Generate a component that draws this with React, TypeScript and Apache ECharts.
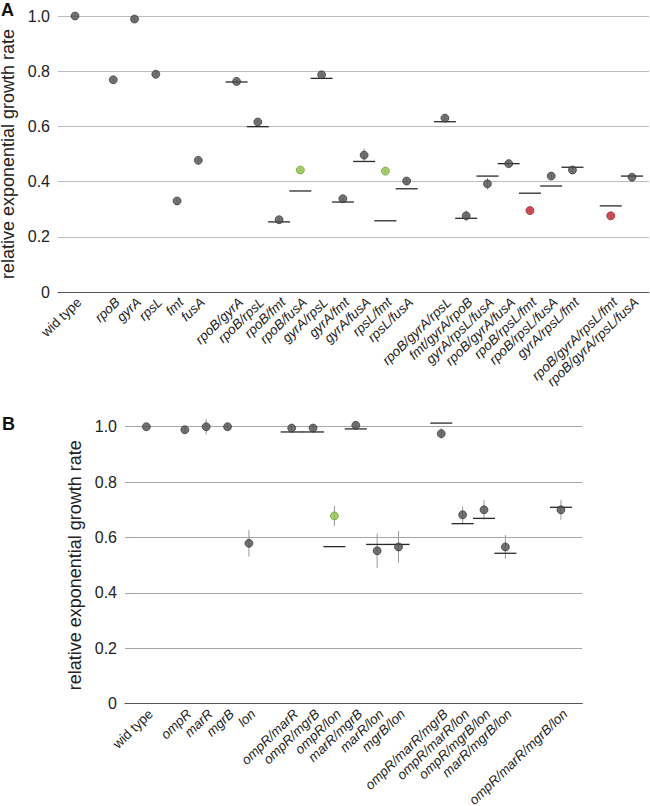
import React, { useEffect, useRef } from "react";
import * as echarts from "echarts";

// ---------- Panel A data ----------
const categoriesA = [
  "wid type", "rpoB", "gyrA", "rpsL", "fmt", "fusA",
  "rpoB/gyrA", "rpoB/rpsL", "rpoB/fmt", "rpoB/fusA", "gyrA/rpsL", "gyrA/fmt", "gyrA/fusA", "rpsL/fmt", "rpsL/fusA",
  "rpoB/gyrA/rpsL", "fmt/gyrA/rpoB", "gyrA/rpsL/fusA", "rpoB/gyrA/fusA", "rpoB/rpsL/fmt", "rpoB/rpsL/fusA", "gyrA/rpsL/fmt",
  "rpoB/gyrA/rpsL/fmt", "rpoB/gyrA/rpsL/fusA",
];
const groupSizesA = [1, 5, 9, 7, 2];
const observedA = [
  1.0, 0.769, 0.989, 0.789, 0.33, 0.477,
  0.763, 0.616, 0.262, 0.442, 0.787, 0.338, 0.496, 0.438, 0.402,
  0.63, 0.276, 0.392, 0.465, 0.295, 0.42, 0.442,
  0.276, 0.416,
];
const expectedA = [
  null, null, null, null, null, null,
  0.761, 0.599, 0.254, 0.366, 0.774, 0.326, 0.473, 0.258, 0.374,
  0.617, 0.267, 0.42, 0.465, 0.358, 0.384, 0.452,
  0.312, 0.42,
];
const errorA = [
  0.004, 0.006, 0.006, 0.006, 0.006, 0.006,
  0.006, 0.008, 0.008, 0.006, 0.006, 0.008, 0.024, 0.006, 0.008,
  0.008, 0.02, 0.021, 0.008, 0.006, 0.008, 0.008,
  0.006, 0.008,
];
const epistasisA = [
  "ns", "ns", "ns", "ns", "ns", "ns",
  "ns", "ns", "ns", "pos", "ns", "ns", "ns", "pos", "ns",
  "ns", "ns", "ns", "ns", "neg", "ns", "ns",
  "neg", "ns",
];

// ---------- Panel B data ----------
const categoriesB = [
  "wid type", "ompR", "marR", "mgrB", "lon",
  "ompR/marR", "ompR/mgrB", "ompR/lon", "marR/mgrB", "marR/lon", "mgrB/lon",
  "ompR/marR/mgrB", "ompR/marR/lon", "ompR/mgrB/lon", "marR/mgrB/lon",
  "ompR/marR/mgrB/lon",
];
const groupSizesB = [1, 4, 6, 4, 1];
const observedB = [
  1.0, 0.989, 1.0, 1.0, 0.579,
  0.995, 0.995, 0.678, 1.005, 0.552, 0.566,
  0.975, 0.682, 0.7, 0.566,
  0.7,
];
const expectedB = [
  null, null, null, null, null,
  0.981, 0.981, 0.567, 0.992, 0.575, 0.575,
  1.013, 0.65, 0.669, 0.543,
  0.709,
];
const errorB = [
  0.005, 0.012, 0.028, 0.012, 0.048,
  0.008, 0.008, 0.037, 0.012, 0.062, 0.057,
  0.019, 0.03, 0.035, 0.043,
  0.036,
];
const epistasisB = [
  "ns", "ns", "ns", "ns", "ns",
  "ns", "ns", "pos", "ns", "ns", "ns",
  "ns", "ns", "ns", "ns",
  "ns",
];

const yTicks = [0, 0.2, 0.4, 0.6, 0.8, 1.0];

// ---------- layout helpers ----------
const GAPS_A = [1.8, 1.8, 1.8, 1.8];
const GAPS_B = [1.8, 2.0, 2.0, 2.6];
const LABEL_SHIFT = 0.2;
const FONT = "'Liberation Sans', Arial, Helvetica, sans-serif";

function slotPositions(groupSizes: number[], gaps: number[]): number[] {
  const out: number[] = [];
  let x = 0;
  groupSizes.forEach((n, g) => {
    if (g > 0) x += gaps[g - 1] - 1;
    for (let i = 0; i < n; i++) {
      out.push(Math.round(x * 10) / 10);
      x += 1;
    }
  });
  return out;
}

const COLORS: Record<string, { fill: string; border: string }> = {
  ns: { fill: "#4f4f4f", border: "#2a2a2a" },
  pos: { fill: "#8cc63f", border: "#5b8a26" },
  neg: { fill: "#c8202f", border: "#7d1119" },
};

function panel(
  idx: number,
  categories: string[],
  groupSizes: number[],
  gaps: number[],
  observed: number[],
  expected: (number | null)[],
  error: number[],
  epistasis: string[],
  xMin: number,
  xMax: number,
  gridColor: string,
  nameGap: number
) {
  const pos = slotPositions(groupSizes, gaps);
  const xAxis = {
    type: "value",
    gridIndex: idx,
    min: xMin,
    max: xMax,
    interval: 0.2,
    axisLine: { show: true, lineStyle: { color: "#555", width: 1 } },
    axisTick: { show: false },
    splitLine: { show: false },
    axisLabel: {
      show: true,
      rotate: 44,
      margin: 8,
      hideOverlap: false,
      color: "#222",
      fontSize: 13.5,
      fontFamily: FONT,
      formatter: (v: number) => {
        const t = v - LABEL_SHIFT;
        const k = pos.findIndex((p) => Math.abs(p - t) < 0.05);
        if (k < 0) return "";
        return k === 0 ? `{n|${categories[k]}}` : `{i|${categories[k]}}`;
      },
      rich: {
        n: { fontStyle: "normal", fontSize: 13.5, fontFamily: FONT, color: "#222" },
        i: { fontStyle: "italic", fontSize: 13.5, fontFamily: FONT, color: "#222" },
      },
    },
  };
  const yAxis = {
    type: "value",
    gridIndex: idx,
    min: 0,
    max: 1,
    interval: 0.2,
    name: "relative exponential growth rate",
    nameLocation: "middle",
    nameGap,
    nameTextStyle: { fontSize: 18, color: "#222", fontFamily: FONT },
    axisLine: { show: false },
    axisTick: { show: false },
    splitLine: { show: true, lineStyle: { color: gridColor, width: 1.2 } },
    axisLabel: {
      margin: 8,
      fontSize: 16,
      color: "#222",
      fontFamily: FONT,
      formatter: (v: number) => {
        const t = yTicks.find((y) => Math.abs(y - v) < 1e-6);
        if (t === undefined) return "";
        return t === 0 ? "0" : t.toFixed(1);
      },
    },
  };

  const errData = observed.map((o, i) => [pos[i], o, error[i]]);
  const expData = expected
    .map((e, i) => (e === null ? null : [pos[i], e]))
    .filter((d) => d !== null);
  const obsData = observed.map((o, i) => ({
    value: [pos[i], o],
    itemStyle: {
      color: COLORS[epistasis[i]].fill,
      borderColor: COLORS[epistasis[i]].border,
      borderWidth: 0.8,
    },
  }));

  const series = [
    {
      type: "custom",
      xAxisIndex: idx,
      yAxisIndex: idx,
      data: errData,
      z: 2,
      renderItem: (params: any, api: any) => {
        const x = api.value(0);
        const y = api.value(1);
        const e = api.value(2);
        const p1 = api.coord([x, y - e]);
        const p2 = api.coord([x, y + e]);
        return {
          type: "line",
          shape: { x1: p1[0], y1: p1[1], x2: p2[0], y2: p2[1] },
          style: { stroke: "#9a9a9a", lineWidth: 1 },
        };
      },
    },
    {
      type: "custom",
      xAxisIndex: idx,
      yAxisIndex: idx,
      data: expData,
      z: 3,
      renderItem: (params: any, api: any) => {
        const p = api.coord([api.value(0), api.value(1)]);
        return {
          type: "line",
          shape: { x1: p[0] - 11, y1: p[1], x2: p[0] + 11, y2: p[1] },
          style: { stroke: "#2a2a2a", lineWidth: 1.3 },
        };
      },
    },
    {
      type: "scatter",
      xAxisIndex: idx,
      yAxisIndex: idx,
      symbol: "circle",
      symbolSize: 8,
      clip: false,
      z: 4,
      data: obsData,
    },
  ];
  return { xAxis, yAxis, series };
}

export default function App() {
  const ref = useRef<HTMLDivElement>(null);
  useEffect(() => {
    if (!ref.current) return;
    const chart = echarts.init(ref.current, null, { renderer: "svg" });
    const a = panel(0, categoriesA, groupSizesA, GAPS_A, observedA, expectedA, errorA, epistasisA, -0.8, 27.0, "#bdbdbd", 36.5);
    const b = panel(1, categoriesB, groupSizesB, GAPS_B, observedB, expectedB, errorB, epistasisB, -1.0, 20.4, "#a6a6a6", 41.5);
    chart.setOption({
      animation: false,
      backgroundColor: "#ffffff",
      textStyle: { fontFamily: FONT },
      grid: [
        { left: 58, top: 16, width: 591, height: 276, outerBoundsMode: "none", containLabel: false },
        { left: 125, top: 426.7, width: 457.3, height: 277, outerBoundsMode: "none", containLabel: false },
      ],
      xAxis: [a.xAxis, b.xAxis],
      yAxis: [a.yAxis, b.yAxis],
      series: [...a.series, ...b.series],
      graphic: [
        { type: "text", left: 1, top: 1, style: { text: "A", font: `bold 18px ${FONT}`, fill: "#111" } },
        { type: "text", left: 2, top: 415, style: { text: "B", font: `bold 18px ${FONT}`, fill: "#111" } },
      ],
    });
    return () => chart.dispose();
  }, []);
  return (
    <div
      ref={ref}
      style={{ position: "fixed", left: 0, top: 0, width: 650, height: 806, background: "#fff" }}
    />
  );
}
